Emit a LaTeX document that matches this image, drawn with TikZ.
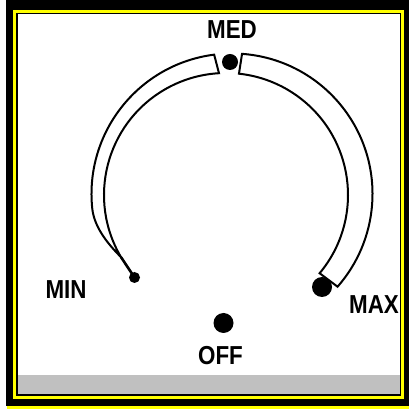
\documentclass[tikz,border=0pt]{standalone}
\usepackage{fontspec}
\setmainfont{Liberation Sans}
\usetikzlibrary{positioning,calc}
\definecolor{frameyellow}{HTML}{FFFF00}
\definecolor{bandgray}{HTML}{C0C0C0}
\newcommand{\condensed}[1]{\scalebox{0.86}[1]{#1}}
\tikzset{
  % Dial markers
  dot/.style={circle,fill=black,draw=none,inner sep=0pt},
  % Position labels
  lbl/.style={font=\bfseries\fontsize{26}{26}\selectfont,inner sep=0pt,anchor=center},
  % Slot outline
  slot/.style={draw=black,line width=2pt,fill=white,line join=miter},
  tailline/.style={black,line width=2.6pt,line cap=round}
}

\begin{document}
\begin{tikzpicture}[x=1pt,y=1pt]
  \useasboundingbox (0,0) rectangle (409,409);
  % Frame
  \fill[white] (0,0) rectangle (409,409);
  \fill[black] (6,3) rectangle (409,409);
  \fill[frameyellow] (7,0) rectangle (409,3);
  \fill[frameyellow] (13,10) rectangle (404,399);
  \fill[black] (16,13) rectangle (401,396);
  \fill[white] (17.5,14.5) rectangle (400,394.5);
  \fill[bandgray] (17.5,14.5) rectangle (400,34);

  \begin{scope}
    \clip (17.5,14.5) rectangle (400,394.5);
    % Slot centres
    \coordinate (oc) at (232,215);
    \coordinate (ic) at (226,214);
    \coordinate (tail) at ([shift={(210.7:122)}]ic);

    % Left slot, tapering to MIN
    \draw[slot] ([shift={(97.3:140.5)}]oc) arc[start angle=97.3,end angle=186,radius=140.5pt]
      .. controls (94.4,180.3) and (110,163) .. (tail)
      arc[start angle=210.7,end angle=93.3,radius=122pt] -- cycle;
    % Right slot, ending at MAX
    \draw[slot] ([shift={(85.9:140.5)}]oc) arc[start angle=85.9,end angle=-41.3,radius=140.5pt]
      -- ([shift={(-39.9:122)}]ic) arc[start angle=-39.9,end angle=83.9,radius=122pt] -- cycle;

    % Markers
    \node[dot,minimum size=16pt] (meddot) at (230,347) {};
    \node[dot,minimum size=11pt] (mindot) at (134.5,131.5) {};
    \node[dot,minimum size=20pt] (maxdot) at (322,122) {};
    \node[dot,minimum size=20pt] (offdot) at (223.5,86) {};
    \draw[tailline] (tail) -- (mindot.center);

    % Labels
    \node[lbl] (medlbl) at (232,379) {\condensed{MED}};
    \node[lbl] (minlbl) at (66,119) {\condensed{MIN}};
    \node[lbl] (maxlbl) at (374,104) {\condensed{MAX}};
    \node[lbl] (offlbl) at (220.5,53) {\condensed{OFF}};
  \end{scope}
\end{tikzpicture}
\end{document}
